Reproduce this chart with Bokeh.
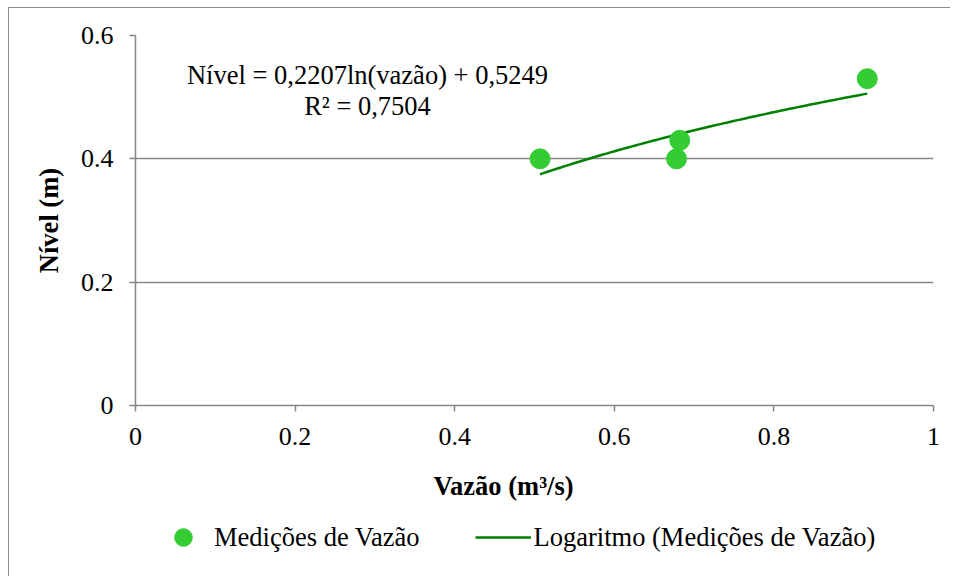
import numpy as np
from bokeh.plotting import figure
from bokeh.layouts import column
from bokeh.models import Label, Legend, LegendItem, FixedTicker
from bokeh.embed import file_html
from bokeh.resources import INLINE

# Data
vazao = [0.507, 0.678, 0.682, 0.917]      # m3/s
nivel = [0.40, 0.40, 0.43, 0.53]          # m
trend_a = 0.2207
trend_b = 0.5249
r2 = 0.7504
x_ticks = [0, 0.2, 0.4, 0.6, 0.8, 1]
y_ticks = [0, 0.2, 0.4, 0.6]
x_tick_labels = {0: "0", 0.2: "0.2", 0.4: "0.4", 0.6: "0.6", 0.8: "0.8", 1: "1"}
y_tick_labels = {0: "0", 0.2: "0.2", 0.4: "0.4", 0.6: "0.6"}

series_name = "Medições de Vazão"
trend_name = "Logaritmo (Medições de Vazão)"
eq_text = "Nível = 0,2207ln(vazão) + 0,5249"
r2_text = "R² = 0,7504"
x_title = "Vazão (m³/s)"
y_title = "Nível (m)"

FONT = "Liberation Serif"
GRID = "#868686"
PT = "#33CC33"
LN = "#008000"

# trendline computed from the displayed regression coefficients
xt = np.linspace(min(vazao), max(vazao), 80)
yt = trend_a * np.log(xt) + trend_b

# ---- main plot ----
p = figure(width=941, height=453, x_range=(0, 1), y_range=(0, 0.6),
           output_backend="svg", toolbar_location=None,
           min_border_left=126, min_border_right=17,
           min_border_top=27, min_border_bottom=56)
p.outline_line_color = None
p.background_fill_color = "white"
p.border_fill_color = "white"

p.line(xt, yt, line_color=LN, line_width=2.5)
p.scatter(vazao, nivel, size=20, fill_color=PT, line_color=PT)

p.xaxis.ticker = FixedTicker(ticks=x_ticks)
p.yaxis.ticker = FixedTicker(ticks=y_ticks)
p.xaxis.major_label_overrides = x_tick_labels
p.yaxis.major_label_overrides = y_tick_labels
for ax in (p.xaxis[0], p.yaxis[0]):
    ax.axis_line_color = GRID
    ax.axis_line_width = 1.5
    ax.major_tick_line_color = GRID
    ax.major_tick_line_width = 1.5
    ax.major_tick_out = 6
    ax.major_tick_in = 0
    ax.minor_tick_line_color = None
    ax.major_label_text_font = FONT
    ax.major_label_text_font_size = "26px"
    ax.major_label_text_color = "black"
    ax.major_label_standoff = 16
p.yaxis.axis_label = y_title
p.yaxis.axis_label_text_font = FONT
p.yaxis.axis_label_text_font_style = "bold"
p.yaxis.axis_label_text_font_size = "26.5px"
p.yaxis.axis_label_text_color = "black"
p.yaxis.axis_label_standoff = 14

p.xgrid.grid_line_color = None
p.ygrid.grid_line_color = GRID
p.ygrid.grid_line_width = 1.5

p.add_layout(Label(x=232, y=331, x_units="screen", y_units="screen",
                   text=eq_text, text_font=FONT, text_font_size="26.5px",
                   text_align="center", text_baseline="middle", text_color="black"))
p.add_layout(Label(x=232, y=300, x_units="screen", y_units="screen",
                   text=r2_text, text_font=FONT, text_font_size="26.5px",
                   text_align="center", text_baseline="middle", text_color="black"))

# ---- lower strip: x-axis title and legend (frame aligned with main plot) ----
p2 = figure(width=941, height=115, x_range=(0, 1), y_range=(5, 6),
            output_backend="svg", toolbar_location=None,
            x_axis_type=None, y_axis_type=None, min_border=0)
p2.grid.visible = False
p2.outline_line_color = None
p2.background_fill_color = "white"
p2.border_fill_color = "white"

p2.add_layout(Label(x=368, y=91, x_units="screen", y_units="screen",
                    text=x_title, text_font=FONT, text_font_style="bold",
                    text_font_size="26.5px", text_align="center",
                    text_baseline="middle", text_color="black"))

# same series, drawn out of this strip's visible range: only their legend entries show
lg_pts = p2.scatter(vazao, nivel, size=20, fill_color=PT, line_color=PT)
lg_line = p2.line(xt, yt, line_color=LN, line_width=2.5)
legend = Legend(items=[LegendItem(label=series_name, renderers=[lg_pts]),
                       LegendItem(label=trend_name, renderers=[lg_line])],
                orientation="horizontal", location=(20, 17),
                glyph_width=56, glyph_height=44, label_standoff=3, spacing=55,
                padding=0, margin=0, border_line_color=None,
                background_fill_alpha=0,
                label_text_font=FONT, label_text_font_size="26.5px",
                label_text_color="black")
p2.add_layout(legend)

layout = column(p, p2, spacing=0,
                styles={"border-top": "1px solid #8c8c8c",
                        "border-left": "1px solid #8c8c8c",
                        "margin-left": "8px", "margin-top": "7px"})

open("out.html", "w").write(file_html(layout, INLINE))
